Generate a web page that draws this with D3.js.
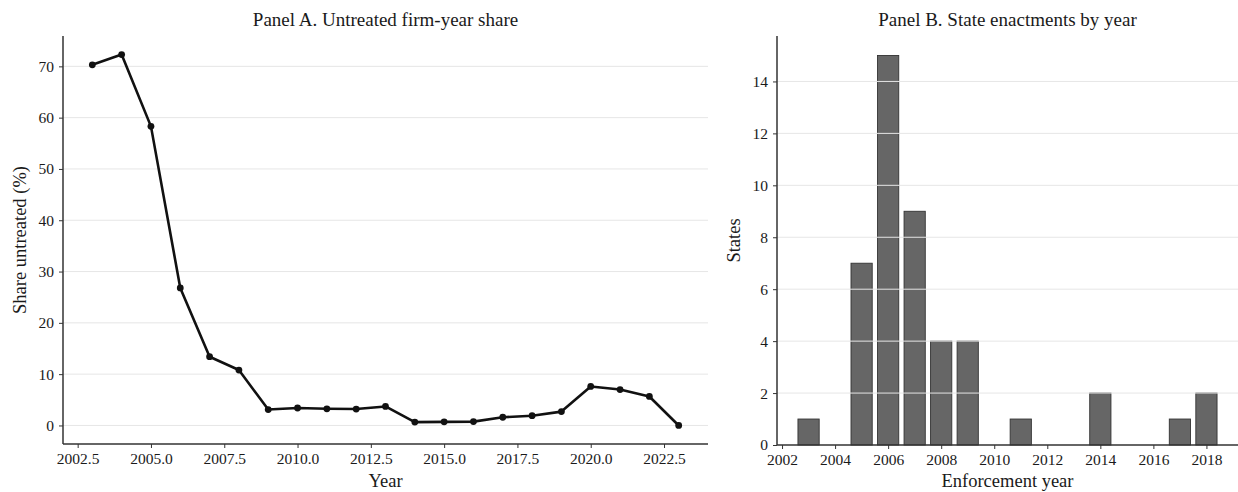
<!DOCTYPE html>
<html>
<head>
<meta charset="utf-8">
<script src="https://cdn.jsdelivr.net/npm/d3@7"></script>
<style>
  html, body { margin: 0; padding: 0; background: #fff; }
  svg { display: block; }
  text { font-family: "Liberation Serif", "DejaVu Serif", serif; fill: #1a1a1a; }
</style>
</head>
<body>
<svg id="chart" width="1238" height="492"></svg>
<script>
// Panel A: share of firm-years not yet treated, by year
const shareYears = [2003, 2004, 2005, 2006, 2007, 2008, 2009, 2010, 2011, 2012, 2013,
                    2014, 2015, 2016, 2017, 2018, 2019, 2020, 2021, 2022, 2023];
const shareUntreated = [70.3, 72.3, 58.3, 26.8, 13.4, 10.8, 3.1, 3.4, 3.25, 3.2, 3.7,
                        0.65, 0.7, 0.75, 1.6, 1.9, 2.7, 7.6, 7.0, 5.65, 0.0];
const shareXTicks = [2002.5, 2005.0, 2007.5, 2010.0, 2012.5, 2015.0, 2017.5, 2020.0, 2022.5];
const shareYTicks = [0, 10, 20, 30, 40, 50, 60, 70];

// Panel B: number of states whose law took effect in each year
const enactYears = [2003, 2005, 2006, 2007, 2008, 2009, 2011, 2014, 2017, 2018];
const enactCounts = [1, 7, 15, 9, 4, 4, 1, 2, 1, 2];
const enactXTicks = [2002, 2004, 2006, 2008, 2010, 2012, 2014, 2016, 2018];
const enactYTicks = [0, 2, 4, 6, 8, 10, 12, 14];

const svg = d3.select("#chart");
const gridColor = "#e6e6e6";
const spineColor = "#333";
const tickFont = 15.5;
const labelFont = 18.5;
const titleFont = 19;

function styleAxis(g) {
  g.selectAll(".domain").remove();
  g.selectAll(".tick line").attr("stroke", spineColor).attr("stroke-width", 1);
  g.selectAll(".tick text")
    .style("font-family", '"Liberation Serif", serif')
    .style("font-size", tickFont + "px")
    .attr("fill", "#1a1a1a");
}

function spines(g, left, right, top, bottom) {
  g.append("line").attr("x1", left).attr("x2", left).attr("y1", top).attr("y2", bottom)
    .attr("stroke", spineColor).attr("stroke-width", 1.5);
  g.append("line").attr("x1", left).attr("x2", right).attr("y1", bottom).attr("y2", bottom)
    .attr("stroke", spineColor).attr("stroke-width", 1.5);
}

// ---------- Panel A ----------
{
  const L = 63, R = 708, T = 36, B = 444;
  const x = d3.scaleLinear().domain([2002, 2024]).range([L, R]);
  const yMax = d3.max(shareUntreated), yMin = d3.min(shareUntreated);
  const pad = (yMax - yMin) * 0.05;
  const y = d3.scaleLinear().domain([yMin - pad, yMax + pad]).range([B, T]);
  const g = svg.append("g");

  g.append("g").selectAll("line").data(shareYTicks).join("line")
    .attr("x1", L).attr("x2", R)
    .attr("y1", d => y(d)).attr("y2", d => y(d))
    .attr("stroke", gridColor).attr("stroke-width", 1);

  const line = d3.line().x((d, i) => x(shareYears[i])).y(d => y(d));
  g.append("path").datum(shareUntreated)
    .attr("d", line).attr("fill", "none")
    .attr("stroke", "#111").attr("stroke-width", 2.6).attr("stroke-linejoin", "round");
  g.append("g").selectAll("circle").data(shareUntreated).join("circle")
    .attr("cx", (d, i) => x(shareYears[i])).attr("cy", d => y(d))
    .attr("r", 3.4).attr("fill", "#111");

  g.append("g").attr("transform", `translate(0,${B})`)
    .call(d3.axisBottom(x).tickValues(shareXTicks).tickFormat(d3.format(".1f")).tickSizeOuter(0).tickSize(4).tickPadding(5))
    .call(styleAxis);
  g.append("g").attr("transform", `translate(${L},0)`)
    .call(d3.axisLeft(y).tickValues(shareYTicks).tickFormat(d3.format("d")).tickSizeOuter(0).tickSize(4).tickPadding(5))
    .call(styleAxis);
  spines(g, L, R, T, B);

  g.append("text").attr("x", (L + R) / 2).attr("y", 26).attr("text-anchor", "middle")
    .style("font-size", titleFont + "px").text("Panel A. Untreated firm-year share");
  g.append("text").attr("x", (L + R) / 2).attr("y", 487).attr("text-anchor", "middle")
    .style("font-size", labelFont + "px").text("Year");
  g.append("text").attr("transform", `translate(26,${(T + B) / 2}) rotate(-90)`)
    .attr("text-anchor", "middle").style("font-size", labelFont + "px").text("Share untreated (%)");
}

// ---------- Panel B ----------
{
  const L = 777, R = 1238, T = 36, B = 445;
  const barW = 0.8;
  const lo = d3.min(enactYears) - barW / 2, hi = d3.max(enactYears) + barW / 2;
  const m = (hi - lo) * 0.05;
  const x = d3.scaleLinear().domain([lo - m, hi + m]).range([L, R]);
  const y = d3.scaleLinear().domain([0, d3.max(enactCounts) * 1.05]).range([B, T]);
  const g = svg.append("g");

  g.append("g").selectAll("rect").data(enactCounts).join("rect")
    .attr("x", (d, i) => x(enactYears[i] - barW / 2))
    .attr("width", (d, i) => x(enactYears[i] + barW / 2) - x(enactYears[i] - barW / 2))
    .attr("y", d => y(d)).attr("height", d => y(0) - y(d))
    .attr("fill", "#666").attr("stroke", "#333").attr("stroke-width", 0.9);

  // grid drawn over the bars
  g.append("g").selectAll("line").data(enactYTicks.filter(d => d > 0)).join("line")
    .attr("x1", L).attr("x2", R)
    .attr("y1", d => y(d)).attr("y2", d => y(d))
    .attr("stroke", gridColor).attr("stroke-width", 1);

  g.append("g").attr("transform", `translate(0,${B})`)
    .call(d3.axisBottom(x).tickValues(enactXTicks).tickFormat(d3.format("d")).tickSizeOuter(0).tickSize(4).tickPadding(5))
    .call(styleAxis);
  g.append("g").attr("transform", `translate(${L},0)`)
    .call(d3.axisLeft(y).tickValues(enactYTicks).tickFormat(d3.format("d")).tickSizeOuter(0).tickSize(4).tickPadding(5))
    .call(styleAxis);
  spines(g, L, R, T, B);

  g.append("text").attr("x", (L + R) / 2).attr("y", 26).attr("text-anchor", "middle")
    .style("font-size", titleFont + "px").text("Panel B. State enactments by year");
  g.append("text").attr("x", (L + R) / 2).attr("y", 487).attr("text-anchor", "middle")
    .style("font-size", labelFont + "px").text("Enforcement year");
  g.append("text").attr("transform", `translate(740,${(T + B) / 2}) rotate(-90)`)
    .attr("text-anchor", "middle").style("font-size", labelFont + "px").text("States");
}
</script>
</body>
</html>
